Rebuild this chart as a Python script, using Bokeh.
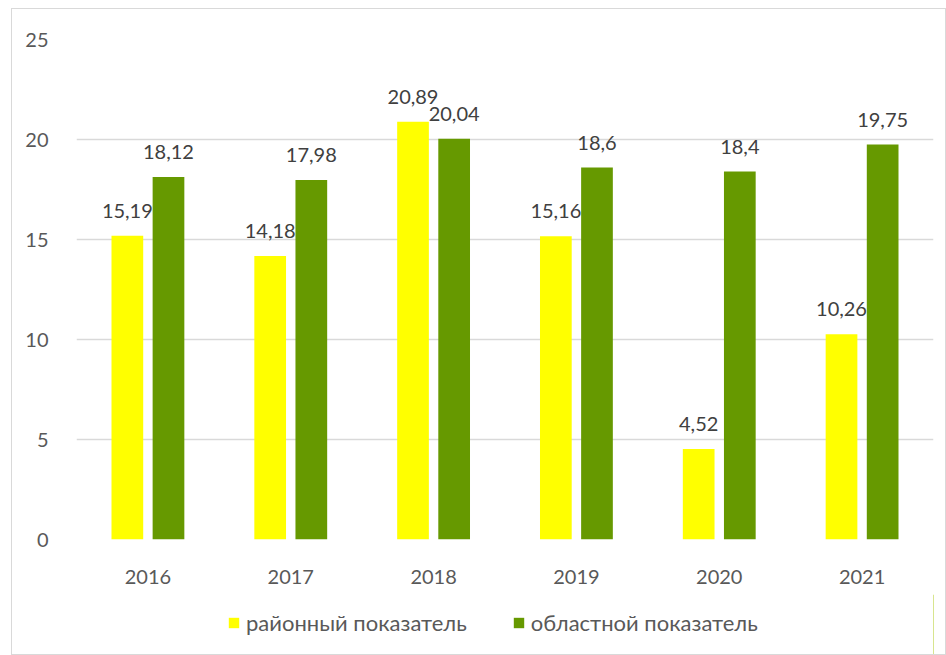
from bokeh.plotting import figure
from bokeh.layouts import column
from bokeh.models import ColumnDataSource, FactorRange, Range1d, FixedTicker, LabelSet, Legend, LegendItem
from bokeh.transform import dodge
from bokeh.core.properties import value
from bokeh.embed import file_html
from bokeh.resources import INLINE

years = ["2016", "2017", "2018", "2019", "2020", "2021"]
district = [15.19, 14.18, 20.89, 15.16, 4.52, 10.26]
region = [18.12, 17.98, 20.04, 18.6, 18.4, 19.75]
series_names = ["районный показатель", "областной показатель"]
colors = ["#FFFF00", "#669900"]
y_ticks = [0, 5, 10, 15, 20, 25]

def fmt(v):
    s = ("%.2f" % v).rstrip("0").rstrip(".")
    return s.replace(".", ",")

src = ColumnDataSource(dict(
    years=years, district=district, region=region,
    dl=[fmt(v) for v in district], rl=[fmt(v) for v in region],
))

FONT = "Lato"
W = 933
OFF = 0.144
BW = 0.222
p = figure(x_range=FactorRange(*years), y_range=Range1d(0, 25),
           width=W, height=585, output_backend="svg", toolbar_location=None,
           min_border_left=64, min_border_right=12, min_border_top=30, min_border_bottom=55)
p.outline_line_color = None

r1 = p.vbar(x=dodge("years", -OFF, range=p.x_range), top="district", width=BW,
            source=src, fill_color=colors[0], line_color=None)
r2 = p.vbar(x=dodge("years", OFF, range=p.x_range), top="region", width=BW,
            source=src, fill_color=colors[1], line_color=None)

for col, lab, off in (("district", "dl", -OFF), ("region", "rl", OFF)):
    ls = LabelSet(x=dodge("years", off, range=p.x_range), y=col, text=lab, source=src,
                  text_align="center", text_baseline="alphabetic", y_offset=18,
                  text_font=value(FONT), text_font_size=value("20px"), text_color=value("#404040"))
    p.add_layout(ls)

p.yaxis.ticker = FixedTicker(ticks=y_ticks)
p.ygrid.ticker = FixedTicker(ticks=y_ticks)
p.ygrid.grid_line_color = "#d9d9d9"
p.ygrid.grid_line_width = 1.5
p.xgrid.grid_line_color = None
for ax in (p.xaxis, p.yaxis):
    ax.axis_line_color = None
    ax.major_tick_line_color = None
    ax.minor_tick_line_color = None
    ax.major_label_text_font = FONT
    ax.major_label_text_font_size = "20px"
    ax.major_label_text_color = "#595959"
p.yaxis.major_label_standoff = 22
p.xaxis.major_label_standoff = 24

# legend strip below the chart
lf = figure(width=W, height=60, x_range=Range1d(0, 1), y_range=Range1d(0, 1),
            output_backend="svg", toolbar_location=None,
            min_border_left=0, min_border_right=0, min_border_top=0, min_border_bottom=0)
lf.axis.visible = False
lf.grid.visible = False
lf.outline_line_color = None
d1 = lf.vbar(x=[5], top=[1], width=0.1, fill_color=colors[0], line_color=None)
d2 = lf.vbar(x=[5], top=[1], width=0.1, fill_color=colors[1], line_color=None)
legend = Legend(items=[LegendItem(label=series_names[0], renderers=[d1]),
                       LegendItem(label=series_names[1], renderers=[d2])],
                orientation="horizontal", location=(151, 18),
                label_text_font=FONT, label_text_font_size="22px", label_text_color="#595959",
                glyph_width=13, glyph_height=13, spacing=45, label_standoff=6,
                background_fill_alpha=0, border_line_color=None, margin=0, padding=4)
lf.add_layout(legend, "center")

layout = column(p, lf, spacing=0)
layout.margin = (8, 0, 0, 11)
layout.styles = {"border": "1px solid #d9d9d9"}

open("out.html", "w").write(file_html(layout, INLINE))
